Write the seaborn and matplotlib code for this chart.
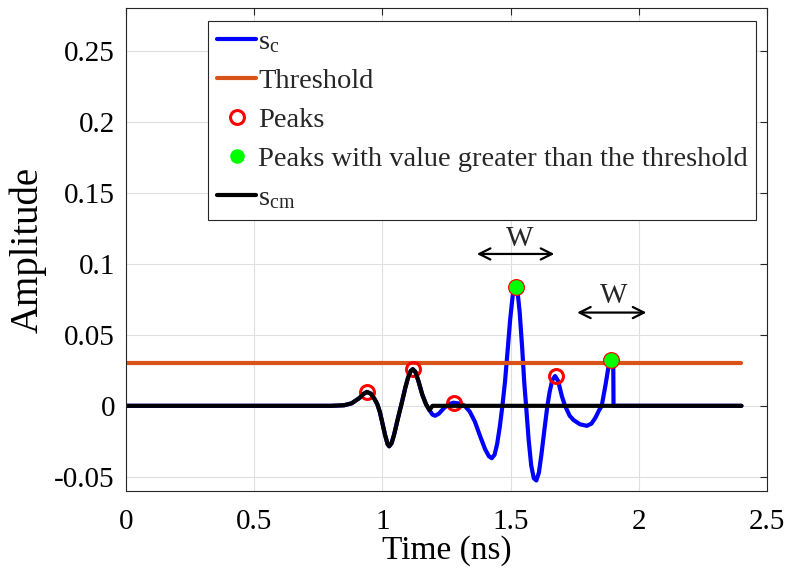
import numpy as np
import pandas as pd
import seaborn as sns
import matplotlib.pyplot as plt

# values (time in ns, amplitude)
time_ns = [0.00, 0.80, 0.85, 0.88, 0.91, 0.925, 0.939, 0.955, 0.97, 0.98, 0.99, 1.00, 1.01, 1.02,
           1.026, 1.035, 1.045, 1.06, 1.075, 1.09, 1.10, 1.11, 1.118, 1.128, 1.14, 1.155, 1.17,
           1.183, 1.195, 1.205, 1.22, 1.24, 1.26, 1.277, 1.30, 1.32, 1.34, 1.36, 1.38, 1.40,
           1.415, 1.426, 1.437, 1.447, 1.458, 1.468, 1.478, 1.488, 1.498, 1.508, 1.515, 1.52,
           1.527, 1.535, 1.545, 1.553, 1.56, 1.57, 1.58, 1.59, 1.60, 1.61, 1.62, 1.632, 1.643,
           1.652, 1.662, 1.673, 1.685, 1.70, 1.712, 1.73, 1.745, 1.77, 1.797, 1.815, 1.83,
           1.845, 1.855, 1.87, 1.88, 1.89, 1.90, 1.901, 2.40]
s_c = [0.0, 0.0, 0.0004, 0.0018, 0.0055, 0.0082, 0.0098, 0.0085, 0.0045, 0.0010, -0.0045, -0.0125, -0.0205, -0.0270,
       -0.0285, -0.0265, -0.0205, -0.0090, 0.0020, 0.0135, 0.0200, 0.0245, 0.0258, 0.0240, 0.0175, 0.0080, 0.0010,
       -0.0030, -0.0062, -0.0070, -0.0055, -0.0015, 0.0012, 0.0022, 0.0016, 0.0001, -0.0040, -0.0110, -0.0210, -0.0305,
       -0.0355, -0.0369, -0.0345, -0.0270, -0.0140, 0.0005, 0.0175, 0.0390, 0.0610, 0.0780, 0.0835, 0.0840,
       0.0800, 0.0660, 0.0400, 0.0160, 0.0000, -0.0240, -0.0420, -0.0510, -0.0526, -0.0470, -0.0340, -0.0160, 0.0000,
       0.0100, 0.0180, 0.0210, 0.0175, 0.0065, 0.0000, -0.0070, -0.0100, -0.0130, -0.0141, -0.0125, -0.0085,
       -0.0030, 0.0000, 0.0150, 0.0260, 0.0324, 0.0310, 0.0000, 0.0]
cut_time = 1.183  # s_cm follows s_c up to here, zero afterwards

thr_time = [0.0, 2.4]
threshold = [0.03, 0.03]

peak_t = [0.939, 1.118, 1.277, 1.520, 1.675, 1.890]
peak_v = [0.0100, 0.0258, 0.0021, 0.0840, 0.0208, 0.0324]

df = pd.DataFrame({"t": time_ns, "sc": s_c})
df["scm"] = np.where(df["t"] <= cut_time, df["sc"], 0.0)
peaks = pd.DataFrame({"t": peak_t, "v": peak_v})
big = peaks[peaks["v"] > threshold[0]]

sns.set_theme(style="white")
plt.rcParams["font.family"] = ["Liberation Serif", "DejaVu Serif"]
plt.rcParams["mathtext.fontset"] = "custom"
plt.rcParams["mathtext.rm"] = "Liberation Serif"
plt.rcParams["mathtext.it"] = "Liberation Serif:italic"

fig = plt.figure(figsize=(7.88, 5.79), dpi=100)
ax = fig.add_axes([0.16, 0.152, 0.8135, 0.8335])

sns.lineplot(data=df, x="t", y="sc", ax=ax, color="#0000ff", lw=3, sort=False,
             estimator=None, label=r"$\mathrm{s_c}$")
sns.lineplot(x=thr_time, y=threshold, ax=ax, color="#d95319", lw=3, label="Threshold")
sns.lineplot(data=peaks, x="t", y="v", ax=ax, ls="", marker="o", ms=10, mfc="none",
             mec="#ff0000", mew=2.2, color="#ff0000", label="Peaks")
sns.lineplot(data=big, x="t", y="v", ax=ax, ls="", marker="o", ms=10.5, mfc="#00ff00",
             mec="#00ff00", mew=0, color="#00ff00", label="Peaks with value greater than the threshold")
sns.lineplot(data=df, x="t", y="scm", ax=ax, color="black", lw=3, sort=False,
             estimator=None, label=r"$\mathrm{s_{cm}}$")

# window width arrows
ax.annotate("", xy=(1.357, 0.107), xytext=(1.681, 0.107),
            arrowprops=dict(arrowstyle="<->", color="black", lw=1.6, mutation_scale=20))
ax.text(1.534, 0.1176, "W", ha="center", va="center", fontsize=21)
ax.annotate("", xy=(1.748, 0.0657), xytext=(2.04, 0.0657),
            arrowprops=dict(arrowstyle="<->", color="black", lw=1.6, mutation_scale=20))
ax.text(1.903, 0.0775, "W", ha="center", va="center", fontsize=21)

ax.set_xlim(0, 2.5)
ax.set_ylim(-0.06, 0.28)
ax.set_xticks([0, 0.5, 1, 1.5, 2, 2.5])
ax.set_xticklabels(["0", "0.5", "1", "1.5", "2", "2.5"])
ax.set_yticks([-0.05, 0, 0.05, 0.1, 0.15, 0.2, 0.25])
ax.set_yticklabels(["-0.05", "0", "0.05", "0.1", "0.15", "0.2", "0.25"])
ax.grid(True, color="#dfdfdf", lw=0.8)
ax.tick_params(direction="in", length=5, width=0.8, colors="#262626", labelsize=21,
               labelcolor="black", top=True, right=True)
ax.tick_params(axis="x", pad=13)
ax.tick_params(axis="y", pad=8)
for sp in ax.spines.values():
    sp.set_color("#262626")
    sp.set_linewidth(0.8)

ax.set_xlabel("Time (ns)", fontsize=24, color="black", labelpad=0)
ax.set_ylabel("Amplitude", fontsize=28, color="black", va="center")
ax.yaxis.set_label_coords(-0.153, 0.5)

leg = ax.legend(loc="upper left", bbox_to_anchor=(0.264, 0.964), bbox_transform=fig.transFigure,
                fontsize=20.5, frameon=True, fancybox=False, framealpha=1, edgecolor="#262626",
                handlelength=1.4, handletextpad=0.06, labelspacing=0.46, borderpad=0.3,
                borderaxespad=0)
leg.get_frame().set_linewidth(0.8)
for h in leg.get_lines():
    if h.get_linestyle() != "None":
        h.set_linewidth(3)

fig.savefig("out.png", dpi=100)
